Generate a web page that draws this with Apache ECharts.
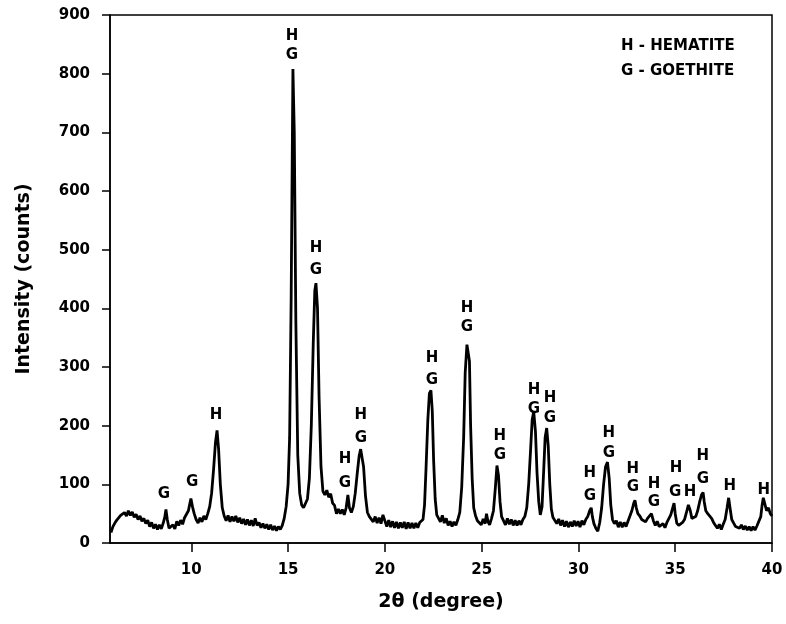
<!DOCTYPE html>
<html>
<head>
<meta charset="utf-8">
<title>XRD pattern</title>
<script src="https://cdn.jsdelivr.net/npm/echarts@6/dist/echarts.min.js"></script>
<style>
  html, body { margin: 0; padding: 0; background: #fff; }
  #xrd { width: 786px; height: 624px; }
</style>
</head>
<body>
<div id="xrd"></div>
<script>
/************************ data ************************/
var twoTheta = [
  5.85, 5.95, 6.05, 6.15, 6.25, 6.35, 6.45, 6.55, 6.65, 6.75, 6.85, 6.95, 7.05, 7.15, 7.25, 7.35, 7.45, 7.55, 7.65, 7.75,
  7.85, 7.95, 8.05, 8.15, 8.25, 8.35, 8.45, 8.55, 8.63, 8.69, 8.76, 8.85, 8.95, 9.05, 9.15, 9.25, 9.35, 9.45, 9.55, 9.65,
  9.75, 9.85, 9.93, 9.98, 10.06, 10.15, 10.25, 10.35, 10.45, 10.55, 10.65, 10.75, 10.85, 10.95, 11.05, 11.15, 11.25, 11.33, 11.41, 11.5,
  11.6, 11.7, 11.8, 11.9, 12.0, 12.1, 12.2, 12.3, 12.4, 12.5, 12.6, 12.7, 12.8, 12.9, 13.0, 13.1, 13.2, 13.3, 13.4, 13.5,
  13.6, 13.7, 13.8, 13.9, 14.0, 14.1, 14.2, 14.3, 14.4, 14.5, 14.6, 14.7, 14.8, 14.9, 15.0, 15.08, 15.16, 15.25, 15.32, 15.4,
  15.5, 15.6, 15.7, 15.8, 15.9, 16.0, 16.1, 16.2, 16.3, 16.38, 16.44, 16.52, 16.6, 16.7, 16.8, 16.9, 17.0, 17.1, 17.2, 17.3,
  17.4, 17.5, 17.6, 17.7, 17.8, 17.9, 18.0, 18.09, 18.17, 18.27, 18.37, 18.47, 18.57, 18.67, 18.75, 18.82, 18.9, 19.0, 19.1, 19.2,
  19.3, 19.4, 19.5, 19.6, 19.7, 19.8, 19.9, 20.0, 20.1, 20.2, 20.3, 20.4, 20.5, 20.6, 20.7, 20.8, 20.9, 21.0, 21.1, 21.2,
  21.3, 21.4, 21.5, 21.6, 21.7, 21.8, 21.9, 21.97, 22.05, 22.13, 22.22, 22.3, 22.38, 22.45, 22.52, 22.6, 22.68, 22.77, 22.87, 22.97,
  23.07, 23.17, 23.27, 23.37, 23.47, 23.57, 23.67, 23.77, 23.87, 23.97, 24.07, 24.15, 24.24, 24.32, 24.37, 24.43, 24.51, 24.59, 24.68, 24.78,
  24.88, 24.98, 25.08, 25.18, 25.25, 25.33, 25.41, 25.51, 25.61, 25.71, 25.79, 25.87, 25.95, 26.03, 26.13, 26.23, 26.33, 26.43, 26.53, 26.63,
  26.73, 26.83, 26.93, 27.03, 27.13, 27.23, 27.33, 27.43, 27.53, 27.61, 27.69, 27.78, 27.86, 27.95, 28.03, 28.12, 28.2, 28.28, 28.36, 28.44,
  28.52, 28.6, 28.68, 28.78, 28.88, 28.98, 29.08, 29.18, 29.28, 29.38, 29.48, 29.58, 29.68, 29.78, 29.88, 29.98, 30.08, 30.18, 30.28, 30.38,
  30.48, 30.58, 30.66, 30.72, 30.8, 30.9, 31.0, 31.1, 31.2, 31.3, 31.4, 31.5, 31.59, 31.67, 31.76, 31.86, 31.96, 32.06, 32.16, 32.26,
  32.36, 32.46, 32.56, 32.66, 32.76, 32.86, 32.92, 32.99, 33.07, 33.17, 33.27, 33.37, 33.47, 33.57, 33.67, 33.77, 33.87, 33.97, 34.07, 34.17,
  34.27, 34.37, 34.47, 34.57, 34.67, 34.77, 34.87, 34.94, 35.0, 35.08, 35.18, 35.28, 35.38, 35.48, 35.58, 35.68, 35.78, 35.86, 35.96, 36.06,
  36.16, 36.26, 36.36, 36.44, 36.5, 36.58, 36.68, 36.78, 36.88, 36.98, 37.08, 37.18, 37.28, 37.38, 37.48, 37.58, 37.68, 37.76, 37.84, 37.92,
  38.02, 38.12, 38.22, 38.32, 38.42, 38.52, 38.62, 38.72, 38.82, 38.92, 39.02, 39.12, 39.22, 39.32, 39.42, 39.49, 39.55, 39.62, 39.72, 39.82,
  39.91, 40.0
];
var counts = [
  18, 28, 34, 39, 42, 47, 44, 52, 46, 55, 47, 53, 44, 49, 40, 46, 37, 42, 33, 39,
  28, 35, 25, 32, 23, 31, 24, 34, 44, 57, 40, 25, 22, 31, 24, 37, 30, 39, 32, 43,
  46, 55, 68, 76, 62, 50, 40, 34, 43, 36, 46, 40, 50, 62, 85, 125, 172, 192, 160, 100,
  60, 46, 38, 47, 36, 45, 37, 46, 35, 43, 33, 41, 31, 40, 30, 39, 29, 42, 30, 35,
  26, 33, 25, 32, 23, 31, 22, 29, 21, 28, 23, 30, 42, 62, 100, 180, 420, 808, 700, 380,
  150, 85, 65, 60, 63, 75, 110, 200, 340, 430, 443, 400, 250, 130, 88, 82, 90, 78, 84, 68,
  64, 50, 58, 50, 57, 48, 60, 82, 60, 52, 62, 85, 118, 148, 160, 162, 130, 80, 52, 45,
  44, 36, 45, 34, 43, 33, 48, 38, 28, 39, 27, 37, 26, 36, 25, 35, 26, 36, 24, 35,
  25, 34, 25, 34, 26, 35, 34, 40, 65, 130, 210, 255, 260, 225, 140, 75, 48, 46, 36, 47,
  34, 42, 30, 37, 28, 36, 30, 40, 52, 95, 180, 290, 338, 341, 310, 200, 110, 60, 47, 38,
  39, 31, 41, 33, 50, 36, 31, 42, 55, 95, 132, 115, 70, 45, 42, 31, 42, 32, 40, 30,
  39, 30, 38, 31, 40, 45, 60, 100, 160, 210, 224, 190, 120, 70, 48, 62, 120, 180, 196, 165,
  100, 58, 44, 42, 33, 41, 30, 39, 28, 37, 27, 36, 28, 38, 29, 37, 27, 38, 31, 40,
  45, 55, 60, 45, 33, 25, 20, 35, 60, 100, 130, 138, 110, 65, 40, 33, 38, 27, 36, 27,
  35, 28, 37, 40, 55, 68, 73, 60, 50, 46, 40, 38, 36, 42, 45, 50, 38, 30, 37, 28,
  25, 33, 26, 35, 36, 48, 60, 68, 50, 34, 30, 28, 35, 40, 52, 65, 55, 42, 40, 45,
  55, 70, 82, 86, 70, 55, 50, 48, 42, 35, 30, 25, 32, 23, 32, 40, 60, 77, 58, 40,
  34, 28, 29, 25, 31, 23, 29, 22, 28, 21, 28, 22, 29, 30, 45, 65, 77, 68, 55, 60,
  50, 46
];

// phase markers above the peaks (H = hematite, G = goethite)
var markX    = [8.59, 10.04, 11.28, 15.2, 15.2, 16.44, 16.44, 17.94, 17.94, 18.76, 18.76, 22.43, 22.43, 24.24, 24.24, 25.94, 25.94,
                27.7, 27.7, 28.53, 28.53, 30.59, 30.59, 31.57, 31.57, 32.81, 32.81, 33.9, 33.9, 35.04, 35.0, 35.76, 36.43, 36.43, 37.82, 39.58];
var markY    = [84, 104, 218, 864, 832, 503, 465, 143, 102, 218, 179, 315, 278, 401, 368, 182, 150,
                261, 228, 247, 213, 119, 80, 187, 153, 126, 95, 101, 70, 128, 87, 87, 148, 109, 97, 90];
var markText = ['G', 'G', 'H', 'H', 'G', 'H', 'G', 'H', 'G', 'H', 'G', 'H', 'G', 'H', 'G', 'H', 'G',
                'H', 'G', 'H', 'G', 'H', 'G', 'H', 'G', 'H', 'G', 'H', 'G', 'H', 'G', 'H', 'H', 'G', 'H', 'H'];

var xTicks = [10, 15, 20, 25, 30, 35, 40];
var legendLines = ['H - HEMATITE', 'G - GOETHITE'];

/************************ build chart ************************/
var FONT = 'DejaVu Sans';
var chart = echarts.init(document.getElementById('xrd'));

var linePts = [];
for (var i = 0; i < twoTheta.length; i++) {
    linePts.push([twoTheta[i], counts[i]]);
}
var marks = [];
for (var j = 0; j < markX.length; j++) {
    marks.push({ value: [markX[j], markY[j]], name: markText[j] });
}

var option = {
    animation: false,
    backgroundColor: '#fff',
    grid: { left: 110, right: 14, top: 15, bottom: 81, show: true, borderColor: '#000', borderWidth: 1.5, containLabel: false },
    xAxis: {
        type: 'value', min: 5.8, max: 40,
        name: '2θ (degree)', nameLocation: 'middle', nameGap: 50,
        nameTextStyle: { fontFamily: FONT, fontWeight: 'bold', fontSize: 19, color: '#000' },
        axisLine: { show: true, lineStyle: { color: '#000', width: 1.5 } },
        axisTick: { show: true, length: 9, customValues: xTicks, lineStyle: { color: '#000', width: 1.5 } },
        axisLabel: { customValues: xTicks, margin: 20, fontFamily: FONT, fontWeight: 'bold', fontSize: 15, color: '#000' },
        splitLine: { show: false }
    },
    yAxis: {
        type: 'value', min: 0, max: 900, interval: 100,
        name: 'Intensity (counts)', nameLocation: 'middle', nameGap: 76, nameRotate: 90,
        nameTextStyle: { fontFamily: FONT, fontWeight: 'bold', fontSize: 19, color: '#000' },
        axisLine: { show: true, lineStyle: { color: '#000', width: 1.5 } },
        axisTick: { show: true, length: 8, lineStyle: { color: '#000', width: 1.5 } },
        axisLabel: { margin: 20, fontFamily: FONT, fontWeight: 'bold', fontSize: 15, color: '#000' },
        splitLine: { show: false }
    },
    graphic: [
        { type: 'text', left: 621, top: 39, style: { text: legendLines[0], font: 'bold 15px "DejaVu Sans"', fill: '#000' } },
        { type: 'text', left: 621, top: 64, style: { text: legendLines[1], font: 'bold 15px "DejaVu Sans"', fill: '#000' } }
    ],
    series: [
        {
            type: 'line', data: linePts, showSymbol: false, smooth: false,
            lineStyle: { color: '#000', width: 2.8 }, silent: true
        },
        {
            type: 'scatter', data: marks, symbolSize: 0, silent: true,
            itemStyle: { color: '#000', opacity: 1 },
            label: {
                show: true, position: 'inside', formatter: '{b}', opacity: 1,
                fontFamily: FONT, fontWeight: 'bold', fontSize: 15, color: '#000'
            }
        }
    ]
};
chart.setOption(option);
</script>
</body>
</html>
